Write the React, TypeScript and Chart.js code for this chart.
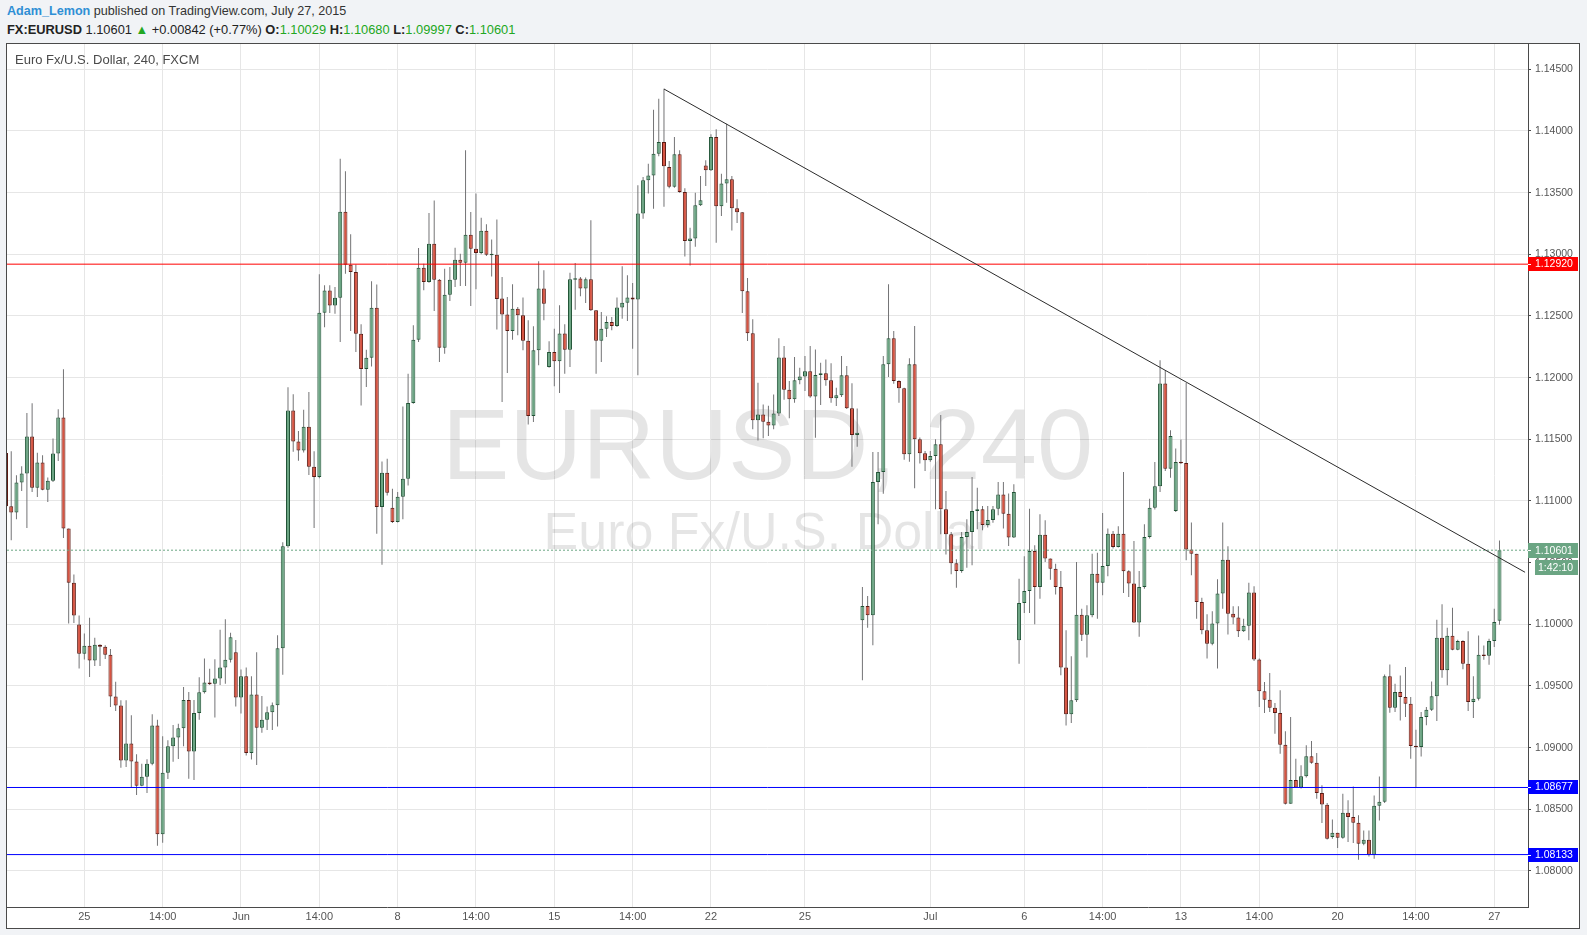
import React, { useEffect, useRef } from 'react';
import { Chart, registerables } from 'chart.js';

Chart.register(...registerables);

// ---- Candle data (EURUSD, 240 min, FXCM) ----
const opens = [
  1.11390,1.10957,1.10906,1.11149,1.11222,1.11522,1.11108,1.11311,1.11092,1.11165,
  1.11384,1.11676,1.10776,1.10338,1.09998,1.09762,1.09827,1.09706,1.09835,1.09819,
  1.09754,1.09414,1.09341,1.08895,1.09033,1.08887,1.08692,1.08765,1.08870,1.09179,
  1.08297,1.08797,1.09012,1.09082,1.09158,1.09386,1.08969,1.09280,1.09449,1.09528,
  1.09518,1.09561,1.09650,1.09713,1.09773,1.09406,1.09578,1.08956,1.09432,1.09161,
  1.09227,1.09287,1.09343,1.09806,1.10633,1.11734,1.11482,1.11410,1.11602,1.11277,
  1.11195,1.12527,1.12706,1.12584,1.12648,1.13346,1.12916,1.12856,1.12356,1.12070,
  1.12162,1.12567,1.10951,1.11229,1.10945,1.10829,1.11034,1.11181,1.11794,1.12308,
  1.12891,1.12775,1.13086,1.12794,1.12243,1.12673,1.12794,1.12956,1.12932,1.13159,
  1.13046,1.13010,1.13191,1.12997,1.12997,1.12641,1.12511,1.12378,1.12559,1.12505,
  1.12300,1.11690,1.12222,1.12722,1.12087,1.12208,1.12132,1.12357,1.12227,1.12797,
  1.12803,1.12722,1.12797,1.12546,1.12300,1.12397,1.12451,1.12419,1.12568,1.12608,
  1.12649,1.12633,1.13330,1.13600,1.13638,1.13816,1.13911,1.13708,1.13548,1.13811,
  1.13505,1.13108,1.13129,1.13397,1.13721,1.13681,1.13951,1.13389,1.13575,1.13608,
  1.13373,1.13340,1.12700,1.12359,1.11654,1.11702,1.11643,1.11613,1.11710,1.12164,
  1.11902,1.11824,1.11978,1.12010,1.12051,1.11848,1.12021,1.12035,1.11978,1.11832,
  1.11857,1.12019,1.11751,1.11535,1.10032,1.10148,1.10073,1.11154,1.11235,1.12108,
  1.12319,1.11973,1.11914,1.11378,1.12108,1.11500,1.11386,1.11330,1.11365,1.11459,
  1.10932,1.10730,1.10495,1.10432,1.10708,1.10749,1.10919,1.10932,1.10805,1.10846,
  1.10938,1.11052,1.10897,1.10703,1.09870,1.10173,1.10270,1.10595,1.10303,1.10727,
  1.10533,1.10451,1.10303,1.09649,1.09270,1.09384,1.10078,1.09916,1.10073,1.10411,
  1.10338,1.10473,1.10735,1.10627,1.10735,1.10430,1.10330,1.10014,1.10303,1.10708,
  1.10946,1.11119,1.11952,1.11262,1.10919,1.11317,1.11308,1.10606,1.10573,1.10181,
  1.09951,1.09843,1.10006,1.10249,1.10524,1.10086,1.10056,1.09943,1.09989,1.10257,
  1.09714,1.09457,1.09389,1.09324,1.09281,1.09024,1.08546,1.08737,1.08676,1.08769,
  1.08930,1.08878,1.08632,1.08537,1.08275,1.08310,1.08270,1.08472,1.08437,1.08391,
  1.08221,1.08254,1.08132,1.08529,1.08562,1.09578,1.09324,1.09451,1.09410,1.09356,
  1.09013,1.09005,1.09248,1.09308,1.09416,1.09892,1.09627,1.09908,1.09794,1.09865,
  1.09681,1.09370,1.09397,1.09754,1.09746,1.09865,1.10029,
];

const highs = [
  1.11411,1.11403,1.11209,1.11281,1.11714,1.11792,1.11392,1.11371,1.11190,1.11506,
  1.11744,1.12068,1.10776,1.10403,1.10071,1.09925,1.10054,1.09892,1.09838,1.09830,
  1.09800,1.09535,1.09384,1.09384,1.09262,1.08946,1.08870,1.08906,1.09270,1.09227,
  1.09092,1.09060,1.09184,1.09194,1.09492,1.09452,1.09386,1.09571,1.09723,1.09640,
  1.09717,1.09955,1.10041,1.09932,1.09872,1.09634,1.09650,1.09578,1.09773,1.09419,
  1.09333,1.09366,1.09912,1.10666,1.11922,1.11866,1.11568,1.11740,1.11883,1.11403,
  1.12838,1.12749,1.12749,1.12735,1.13775,1.13673,1.13162,1.12918,1.12432,1.12227,
  1.12781,1.12756,1.11321,1.11343,1.11099,1.11072,1.11767,1.12032,1.12424,1.13051,
  1.12924,1.13335,1.13437,1.12800,1.12883,1.12897,1.13054,1.13005,1.13843,1.13343,
  1.13492,1.13297,1.13243,1.13121,1.13283,1.12816,1.12654,1.12757,1.12573,1.12649,
  1.12465,1.12416,1.12943,1.12870,1.12295,1.12397,1.12586,1.12432,1.12851,1.12930,
  1.12816,1.12811,1.13276,1.12546,1.12532,1.12497,1.12492,1.12649,1.12903,1.12830,
  1.12768,1.13560,1.13627,1.13735,1.14173,1.14262,1.14343,1.13756,1.13951,1.13843,
  1.13535,1.13216,1.13500,1.13635,1.13762,1.13973,1.14013,1.13654,1.14059,1.13635,
  1.13446,1.13340,1.12808,1.12473,1.11959,1.11783,1.11773,1.11864,1.12319,1.12256,
  1.11972,1.12167,1.12081,1.12175,1.12256,1.12229,1.12121,1.12148,1.12116,1.11919,
  1.12176,1.12095,1.11954,1.11749,1.10303,1.10230,1.11397,1.11397,1.12176,1.12757,
  1.12378,1.11978,1.11919,1.12157,1.12419,1.11514,1.11405,1.11405,1.11500,1.11697,
  1.11081,1.10749,1.10527,1.10749,1.10851,1.11195,1.11108,1.10959,1.10959,1.10959,
  1.11154,1.11154,1.11060,1.11135,1.10370,1.10551,1.10938,1.10641,1.10892,1.10843,
  1.10533,1.10492,1.10433,1.09951,1.09741,1.10506,1.10127,1.10154,1.10573,1.10581,
  1.10903,1.10776,1.10757,1.10795,1.11235,1.10438,1.10676,1.10433,1.10811,1.11019,
  1.11316,1.12141,1.12060,1.11573,1.11425,1.11498,1.11957,1.10825,1.10573,1.10216,
  1.10081,1.10106,1.10365,1.10825,1.10632,1.10146,1.10146,1.10046,1.10338,1.10308,
  1.09722,1.09533,1.09606,1.09362,1.09465,1.09133,1.09249,1.08911,1.08858,1.09019,
  1.09054,1.08957,1.08695,1.08551,1.08418,1.08310,1.08627,1.08573,1.08686,1.08451,
  1.08329,1.08329,1.08613,1.08767,1.09594,1.09675,1.09519,1.09586,1.09654,1.09410,
  1.09146,1.09289,1.09329,1.09537,1.10038,1.10162,1.09973,1.10135,1.09875,1.09870,
  1.09943,1.09578,1.09910,1.09829,1.09883,1.10127,1.10680,
];

const lows = [
  1.10952,1.10681,1.10852,1.11081,1.10781,1.11073,1.11033,1.11087,1.10992,1.11154,
  1.11325,1.10700,1.10006,1.10011,1.09641,1.09714,1.09573,1.09662,1.09662,1.09719,
  1.09330,1.09297,1.08838,1.08843,1.08676,1.08616,1.08687,1.08633,1.08857,1.08205,
  1.08230,1.08746,1.08886,1.08909,1.09012,1.08748,1.08738,1.09227,1.09440,1.09508,
  1.09244,1.09508,1.09518,1.09690,1.09333,1.09277,1.08936,1.08903,1.08860,1.09121,
  1.09144,1.09144,1.09171,1.09591,1.10620,1.11400,1.11327,1.11393,1.11211,1.10781,
  1.11185,1.12408,1.12524,1.12518,1.12289,1.12843,1.12378,1.12208,1.11775,1.11924,
  1.12091,1.10735,1.10483,1.11045,1.10821,1.10825,1.10851,1.11126,1.11789,1.12289,
  1.12708,1.12770,1.12540,1.12127,1.12194,1.12621,1.12735,1.12743,1.12743,1.12581,
  1.12716,1.13000,1.12986,1.12821,1.12391,1.11803,1.12038,1.12308,1.12343,1.12222,
  1.11620,1.11640,1.12100,1.12465,1.12081,1.11930,1.11876,1.12032,1.12087,1.12551,
  1.12659,1.12605,1.12540,1.12032,1.12127,1.12330,1.12384,1.12411,1.12478,1.12459,
  1.12235,1.12019,1.13289,1.13492,1.13370,1.13795,1.13385,1.13535,1.13540,1.13500,
  1.12983,1.12910,1.13062,1.13392,1.13554,1.13675,1.13094,1.13310,1.13419,1.13194,
  1.13254,1.12524,1.12297,1.11581,1.11491,1.11508,1.11527,1.11581,1.11689,1.11821,
  1.11670,1.11797,1.11946,1.11891,1.11837,1.11513,1.11778,1.11935,1.11797,1.11770,
  1.11843,1.11745,1.11278,1.11440,1.09546,1.09973,1.09830,1.10811,1.11059,1.12005,
  1.11951,1.11797,1.11335,1.11319,1.11103,1.11303,1.11243,1.11319,1.10932,1.10730,
  1.10567,1.10405,1.10297,1.10419,1.10459,1.10478,1.10770,1.10762,1.10784,1.10824,
  1.10884,1.10776,1.10635,1.10700,1.09681,1.10092,1.10092,1.10000,1.10208,1.10506,
  1.10362,1.10241,1.09587,1.09180,1.09200,1.09370,1.09865,1.09730,1.10057,1.10046,
  1.10235,1.10389,1.10614,1.10622,1.10254,1.10222,1.10011,1.09900,1.10289,1.10695,
  1.10930,1.11073,1.11243,1.11189,1.10911,1.11300,1.10519,1.10397,1.10046,1.09919,
  1.09722,1.09830,1.09641,1.10127,1.09917,1.10000,1.09897,1.09938,1.09870,1.09703,
  1.09330,1.09281,1.09289,1.09113,1.08951,1.08540,1.08546,1.08676,1.08668,1.08758,
  1.08870,1.08586,1.08389,1.08256,1.08262,1.08186,1.08262,1.08235,1.08227,1.08091,
  1.08208,1.08118,1.08100,1.08410,1.08551,1.09283,1.09289,1.09221,1.09248,1.08910,
  1.08675,1.08929,1.09181,1.09297,1.09216,1.09567,1.09505,1.09789,1.09789,1.09635,
  1.09297,1.09240,1.09383,1.09713,1.09673,1.09816,1.09997,
];

const closes = [
  1.10957,1.10906,1.11149,1.11222,1.11522,1.11108,1.11311,1.11092,1.11165,1.11384,
  1.11676,1.10776,1.10338,1.10071,1.09762,1.09827,1.09706,1.09835,1.09819,1.09754,
  1.09414,1.09341,1.08895,1.09033,1.08887,1.08692,1.08765,1.08870,1.09179,1.08297,
  1.08797,1.09012,1.09082,1.09158,1.09386,1.08969,1.09280,1.09449,1.09528,1.09515,
  1.09561,1.09650,1.09713,1.09895,1.09406,1.09578,1.08956,1.09432,1.09161,1.09227,
  1.09287,1.09343,1.09806,1.10633,1.11734,1.11482,1.11410,1.11602,1.11277,1.11195,
  1.12527,1.12706,1.12584,1.12648,1.13346,1.12916,1.12856,1.12356,1.12070,1.12162,
  1.12567,1.10951,1.11229,1.11067,1.10829,1.11034,1.11181,1.11794,1.12308,1.12891,
  1.12775,1.13086,1.12794,1.12243,1.12673,1.12794,1.12956,1.12932,1.13159,1.13046,
  1.13010,1.13191,1.12997,1.12999,1.12637,1.12511,1.12378,1.12559,1.12505,1.12300,
  1.11690,1.12222,1.12722,1.12600,1.12208,1.12132,1.12357,1.12227,1.12797,1.12803,
  1.12722,1.12797,1.12546,1.12300,1.12397,1.12451,1.12419,1.12568,1.12608,1.12649,
  1.12633,1.13330,1.13600,1.13638,1.13816,1.13911,1.13714,1.13548,1.13811,1.13505,
  1.13108,1.13129,1.13397,1.13438,1.13681,1.13951,1.13389,1.13575,1.13608,1.13373,
  1.13340,1.12700,1.12359,1.11654,1.11702,1.11643,1.11613,1.11710,1.12164,1.11902,
  1.11824,1.11978,1.12010,1.12051,1.11848,1.12021,1.12035,1.11978,1.11832,1.11857,
  1.12019,1.11751,1.11535,1.11554,1.10148,1.10073,1.11154,1.11235,1.12108,1.12319,
  1.11973,1.11914,1.11378,1.12108,1.11500,1.11386,1.11330,1.11365,1.11459,1.10932,
  1.10730,1.10495,1.10432,1.10708,1.10749,1.10919,1.10932,1.10805,1.10846,1.10932,
  1.11052,1.10897,1.10703,1.11073,1.10173,1.10270,1.10595,1.10303,1.10727,1.10533,
  1.10451,1.10303,1.09649,1.09270,1.09384,1.10078,1.09916,1.10073,1.10411,1.10338,
  1.10473,1.10735,1.10627,1.10735,1.10430,1.10330,1.10014,1.10303,1.10708,1.10946,
  1.11119,1.11952,1.11262,1.11527,1.11317,1.11308,1.10606,1.10573,1.10181,1.09951,
  1.09843,1.10006,1.10249,1.10524,1.10086,1.10056,1.09943,1.09989,1.10257,1.09714,
  1.09457,1.09389,1.09324,1.09281,1.09024,1.08546,1.08737,1.08676,1.08769,1.08930,
  1.08878,1.08632,1.08540,1.08262,1.08310,1.08270,1.08472,1.08437,1.08391,1.08221,
  1.08254,1.08132,1.08529,1.08562,1.09578,1.09324,1.09451,1.09410,1.09356,1.09013,
  1.09005,1.09248,1.09308,1.09416,1.09892,1.09627,1.09908,1.09794,1.09865,1.09681,
  1.09370,1.09397,1.09754,1.09746,1.09865,1.10019,1.10601,
];

// ---- Axes ----
const xTickIndex = [15, 30, 45, 60, 75, 90, 105, 120, 135, 153, 177, 195, 210, 225, 240, 255, 270, 285];
const xTickLabels = ['25', '14:00', 'Jun', '14:00', '8', '14:00', '15', '14:00', '22', '25', 'Jul', '6', '14:00', '13', '14:00', '20', '14:00', '27'];
const yTickValues = [1.08, 1.085, 1.09, 1.095, 1.1, 1.105, 1.11, 1.115, 1.12, 1.125, 1.13, 1.135, 1.14, 1.145];
const yTickLabels = ['1.08000', '1.08500', '1.09000', '1.09500', '1.10000', '1.10500', '1.11000', '1.11500', '1.12000', '1.12500', '1.13000', '1.13500', '1.14000', '1.14500'];
const X_MIN = 0.19;
const X_MAX = 291.46;
const Y_MIN = 1.077081;
const Y_MAX = 1.147051;

// ---- Drawings ----
const resistanceLevel = 1.1292;
const supportLevels = [1.08677, 1.08133];
const lastPrice = 1.10601;
const countdownText = '1:42:10';
const trendStart = { x: 126, y: 1.1434 };
const trendEnd = { x: 290.9, y: 1.10422 };

const FONT = '"Liberation Sans", Arial, Helvetica, sans-serif';
const UP_FILL = '#6ba583';
const UP_EDGE = '#225437';
const DOWN_FILL = '#d75442';
const DOWN_EDGE = '#5b1a13';
const WICK = '#737375';

function hLine(level: number, color: string, dash: number[] = []) {
  return {
    type: 'line' as const,
    data: [{ x: X_MIN, y: level }, { x: X_MAX, y: level }],
    borderColor: color,
    borderWidth: 1,
    borderDash: dash,
    pointRadius: 0,
    tension: 0,
    order: 1,
  };
}

function drawPriceBox(ctx: CanvasRenderingContext2D, x0: number, y: number, w: number, bg: string, text: string) {
  ctx.fillStyle = bg;
  ctx.fillRect(x0, Math.round(y) - 7, w, 14);
  ctx.strokeStyle = '#ffffff';
  ctx.lineWidth = 1;
  ctx.beginPath();
  ctx.moveTo(x0, Math.round(y) + 0.5);
  ctx.lineTo(x0 + 3, Math.round(y) + 0.5);
  ctx.stroke();
  ctx.fillStyle = '#ffffff';
  ctx.font = `10.5px ${FONT}`;
  ctx.textAlign = 'left';
  ctx.textBaseline = 'middle';
  ctx.fillText(text, x0 + 7, Math.round(y) + 0.5);
}

const overlayPlugin = {
  id: 'tvOverlay',
  beforeDatasetsDraw(chart: any) {
    const { ctx, chartArea } = chart;
    ctx.save();
    ctx.beginPath();
    ctx.rect(chartArea.left, chartArea.top, chartArea.right - chartArea.left, chartArea.bottom - chartArea.top);
    ctx.clip();
    const cx = (chartArea.left + chartArea.right) / 2;
    ctx.fillStyle = 'rgba(0,0,0,0.1)';
    ctx.textAlign = 'center';
    ctx.textBaseline = 'alphabetic';
    ctx.font = `101px ${FONT}`;
    ctx.fillText('EURUSD, 240', cx, chartArea.top + 435);
    ctx.font = `52px ${FONT}`;
    ctx.fillText('Euro Fx/U.S. Dollar', cx, chartArea.top + 505);
    ctx.restore();
  },
  afterDatasetsDraw(chart: any) {
    const { ctx, chartArea } = chart;
    ctx.save();
    ctx.fillStyle = '#4a4a4a';
    ctx.font = `13px ${FONT}`;
    ctx.textAlign = 'left';
    ctx.textBaseline = 'middle';
    ctx.fillText('Euro Fx/U.S. Dollar, 240, FXCM', chartArea.left + 8, chartArea.top + 16);
    ctx.restore();
  },
  afterDraw(chart: any) {
    const { ctx, chartArea } = chart;
    const ys = chart.scales.y;
    const x0 = chartArea.right;
    ctx.save();
    drawPriceBox(ctx, x0, ys.getPixelForValue(resistanceLevel), 50, '#ff0000', resistanceLevel.toFixed(5));
    supportLevels.forEach((lv) => drawPriceBox(ctx, x0, ys.getPixelForValue(lv), 50, '#0000ff', lv.toFixed(5)));
    const yl = ys.getPixelForValue(lastPrice);
    ctx.fillStyle = UP_FILL;
    ctx.fillRect(x0, Math.round(yl) - 7, 50, 15);
    ctx.strokeStyle = '#ffffff';
    ctx.beginPath();
    ctx.moveTo(x0, Math.round(yl) + 0.5);
    ctx.lineTo(x0 + 3, Math.round(yl) + 0.5);
    ctx.stroke();
    ctx.fillRect(x0 + 7, Math.round(yl) + 10, 43, 15);
    ctx.fillStyle = '#ffffff';
    ctx.font = `10.5px ${FONT}`;
    ctx.textAlign = 'left';
    ctx.textBaseline = 'middle';
    ctx.fillText(lastPrice.toFixed(5), x0 + 7, Math.round(yl) + 1);
    ctx.fillText(countdownText, x0 + 10, Math.round(yl) + 18);
    ctx.restore();
  },
};

export default function App() {
  const ref = useRef<HTMLCanvasElement>(null);

  useEffect(() => {
    document.body.style.margin = '0';
    const canvas = ref.current;
    if (!canvas) return;

    const idx = opens.map((_, i) => i);
    const isUp = idx.map((i) => closes[i] >= opens[i]);
    const MIN_BODY = 0.00012;
    const wickData = idx.map((i) => ({ x: i, y: [lows[i], highs[i]] }));
    const bodyData = idx.map((i) => {
      const o = opens[i];
      const c = closes[i];
      if (Math.abs(o - c) < MIN_BODY) {
        const m = (o + c) / 2;
        return { x: i, y: [m - MIN_BODY / 2, m + MIN_BODY / 2] };
      }
      return { x: i, y: [o, c] };
    });

    const chart = new Chart(canvas, {
      type: 'bar',
      data: {
        datasets: [
          {
            type: 'bar',
            label: 'wicks',
            data: wickData as any,
            backgroundColor: WICK,
            borderWidth: 0,
            maxBarThickness: 1,
            barThickness: 1,
            inflateAmount: 0,
            grouped: false,
            order: 5,
          } as any,
          {
            type: 'bar',
            label: 'bodies',
            data: bodyData as any,
            backgroundColor: idx.map((i) => (isUp[i] ? UP_FILL : DOWN_FILL)),
            borderColor: idx.map((i) => (isUp[i] ? UP_EDGE : DOWN_EDGE)),
            borderWidth: 1,
            borderSkipped: false,
            maxBarThickness: 4,
            barThickness: 4,
            inflateAmount: 0,
            grouped: false,
            order: 4,
          } as any,
          hLine(lastPrice, UP_FILL, [2, 2]) as any,
          hLine(resistanceLevel, '#ff0000') as any,
          ...supportLevels.map((lv) => hLine(lv, '#0000ff') as any),
          {
            type: 'line',
            data: [trendStart, trendEnd],
            borderColor: '#2b2b2b',
            borderWidth: 1,
            pointRadius: 0,
            tension: 0,
            order: 0,
          } as any,
        ],
      },
      options: {
        responsive: false,
        animation: false,
        events: [],
        layout: { padding: 0 },
        plugins: {
          legend: { display: false },
          tooltip: { enabled: false },
        },
        scales: {
          x: {
            type: 'linear',
            min: X_MIN,
            max: X_MAX,
            bounds: 'data',
            offset: false,
            grid: { color: '#e6e6e6', offset: false, drawTicks: false, lineWidth: 1 },
            border: { display: true, color: '#4a4a4a', width: 1 },
            ticks: {
              autoSkip: false,
              maxRotation: 0,
              minRotation: 0,
              padding: 3,
              color: '#555555',
              font: { family: FONT, size: 11 },
              callback: (_v: any, i: number) => xTickLabels[i],
            },
            afterBuildTicks: (axis: any) => {
              axis.ticks = xTickIndex.map((v) => ({ value: v }));
            },
            afterFit: (axis: any) => {
              axis.height = 21;
              axis.paddingLeft = 0;
              axis.paddingRight = 0;
            },
          } as any,
          y: {
            type: 'linear',
            position: 'right',
            min: Y_MIN,
            max: Y_MAX,
            bounds: 'data',
            beginAtZero: false,
            grid: { color: '#e6e6e6', tickLength: 3, tickColor: '#4a4a4a', drawTicks: true },
            border: { display: true, color: '#4a4a4a', width: 1 },
            ticks: {
              padding: 4,
              color: '#555555',
              font: { family: FONT, size: 10.5 },
              callback: (_v: any, i: number) => yTickLabels[i],
            },
            afterBuildTicks: (axis: any) => {
              axis.ticks = yTickValues.map((v) => ({ value: v }));
            },
            afterFit: (axis: any) => {
              axis.width = 51;
              axis.paddingTop = 0;
              axis.paddingBottom = 0;
            },
          } as any,
        },
      },
      plugins: [overlayPlugin],
    } as any);

    return () => chart.destroy();
  }, []);

  const green = { color: '#22a722' };
  return (
    <div
      style={{
        position: 'fixed',
        left: 0,
        top: 0,
        width: 1587,
        height: 935,
        background: '#f1f3f6',
        fontFamily: FONT,
        overflow: 'hidden',
      }}
    >
      <div style={{ position: 'absolute', left: 7, top: 3, fontSize: 12.6, lineHeight: '17px', color: '#333', whiteSpace: 'nowrap' }}>
        <span style={{ color: '#2f8fd5', fontWeight: 'bold' }}>Adam_Lemon</span> published on TradingView.com, July 27, 2015
      </div>
      <div style={{ position: 'absolute', left: 7, top: 21, fontSize: 12.85, lineHeight: '17px', color: '#222', whiteSpace: 'nowrap' }}>
        <b>FX:EURUSD</b> 1.10601 <span style={green}>▲</span> +0.00842 (+0.77%) <b>O:</b>
        <span style={green}>1.10029</span> <b>H:</b>
        <span style={green}>1.10680</span> <b>L:</b>
        <span style={green}>1.09997</span> <b>C:</b>
        <span style={green}>1.10601</span>
      </div>
      <div
        style={{
          position: 'absolute',
          left: 6,
          top: 43,
          width: 1572,
          height: 884,
          border: '1px solid #4a4a4a',
          background: '#ffffff',
        }}
      >
        <canvas ref={ref} width={1572} height={884} style={{ display: 'block', width: 1572, height: 884 }} />
      </div>
    </div>
  );
}
